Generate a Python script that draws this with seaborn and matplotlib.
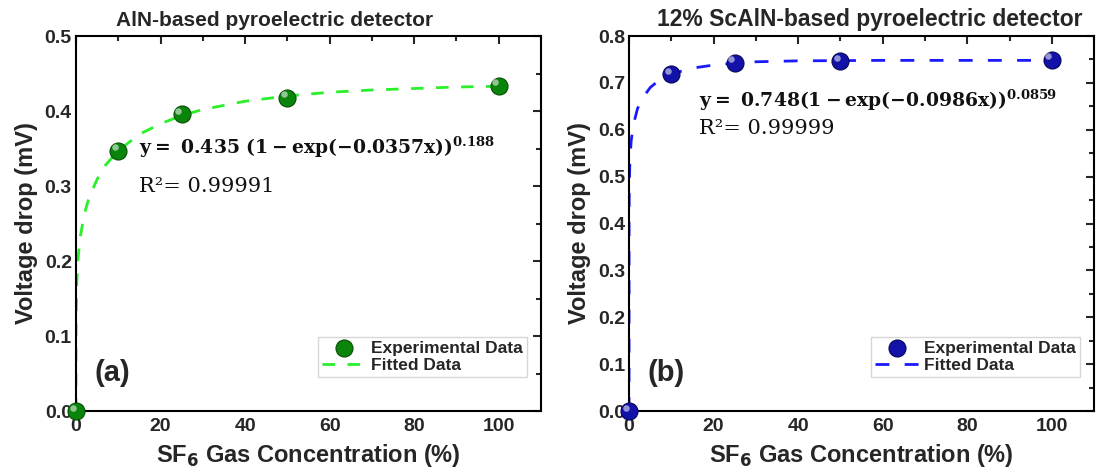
import numpy as np
import pandas as pd
import matplotlib
matplotlib.use("Agg")
import matplotlib.pyplot as plt
from matplotlib.ticker import MultipleLocator
from matplotlib.transforms import ScaledTranslation
import seaborn as sns

sns.set_style('white')
plt.rcParams['font.family'] = ['Liberation Sans', 'DejaVu Sans']
plt.rcParams['font.weight'] = 'bold'
plt.rcParams['mathtext.fontset'] = 'dejavuserif'

# experimental data
conc = [0, 10, 25, 50, 100]
v_aln = [0.0, 0.347, 0.396, 0.418, 0.434]
v_scaln = [0.0, 0.719, 0.743, 0.746, 0.749]

# fitted curves
fit_x = [0, 0.01, 0.05, 0.2, 0.5, 1, 2, 3, 5, 7, 10, 15, 20, 25, 30, 40, 50, 60, 70, 80, 90, 100]
fit_aln = [0.0, 0.098, 0.132, 0.172, 0.204, 0.232, 0.263, 0.283, 0.309, 0.328, 0.347, 0.369,
           0.383, 0.394, 0.402, 0.413, 0.420, 0.425, 0.428, 0.430, 0.432, 0.433]
fit_scaln = [0.0, 0.413, 0.474, 0.533, 0.576, 0.610, 0.645, 0.665, 0.690, 0.705, 0.719, 0.7315,
             0.738, 0.742, 0.745, 0.747, 0.7475, 0.748, 0.748, 0.748, 0.748, 0.748]

panels = [
    dict(title='AlN-based pyroelectric detector', exp=v_aln, fit=fit_aln, ylim=0.5,
         mcol='#0b840b', ecol='#055005', lcol='#2af02a', tag='(a)', tx=0.428, tsize=15,
         dash=[4.5, 4.5],
         eq=r'$\mathbf{y{=}\ 0.435\ (1-exp(-0.0357x))^{0.188}}$',
         r2='R\u00b2= 0.99991', eqpos=(15, 0.352), r2pos=(15, 0.300)),
    dict(title='12% ScAlN-based pyroelectric detector', exp=v_scaln, fit=fit_scaln, ylim=0.8,
         mcol='#1212a8', ecol='#05055a', lcol='#1a1aff', tag='(b)', tx=0.518, tsize=16.5,
         dash=[5, 5.5],
         eq=r'$\mathbf{y{=}\ 0.748(1-exp(-0.0986x))^{0.0859}}$',
         r2='R\u00b2= 0.99999', eqpos=(16.5, 0.662), r2pos=(16.5, 0.602)),
]

fig = plt.figure(figsize=(10.98, 4.75), dpi=100)
lefts = [0.0692, 0.5729]
width = 0.4235

for p, left in zip(panels, lefts):
    ax = fig.add_axes([left, 0.1347, width, 0.7895])
    df_fit = pd.DataFrame({'x': fit_x, 'y': p['fit']})
    df_exp = pd.DataFrame({'x': conc, 'y': p['exp']})
    sns.lineplot(data=df_fit, x='x', y='y', ax=ax, color=p['lcol'], lw=2,
                 dashes=False, label='Fitted Data', zorder=2)
    ax.lines[-1].set_dashes(p['dash'])
    sns.scatterplot(data=df_exp, x='x', y='y', ax=ax, s=150, color=p['mcol'],
                    edgecolor=p['ecol'], linewidth=0.8, label='Experimental Data',
                    zorder=3, clip_on=False)
    # small shine on the spheres
    sns.scatterplot(data=df_exp, x='x', y='y', ax=ax, s=22, color='white', alpha=0.55,
                    linewidth=0, legend=False, zorder=4, clip_on=False)
    shine = ax.collections[-1]
    shine.set_offset_transform(ax.transData + ScaledTranslation(-2.5 / 72, 2.5 / 72, fig.dpi_scale_trans))

    ax.set_xlim(0, 110)
    ax.set_ylim(0, p['ylim'])
    ax.xaxis.set_major_locator(MultipleLocator(20))
    ax.xaxis.set_minor_locator(MultipleLocator(10))
    ax.yaxis.set_major_locator(MultipleLocator(0.1))
    ax.yaxis.set_minor_locator(MultipleLocator(0.05))
    ax.tick_params(which='both', direction='in', top=True, right=True, width=1.5)
    ax.tick_params(which='major', length=6, labelsize=14)
    ax.tick_params(axis='x', which='major', pad=5)
    ax.tick_params(axis='y', which='major', pad=3)
    ax.tick_params(which='minor', length=3.5)
    ax.set_yticks(np.arange(0, p['ylim'] + 0.01, 0.1))
    ax.set_yticklabels([f'{v:.1f}' for v in ax.get_yticks()])
    for lab in ax.get_xticklabels() + ax.get_yticklabels():
        lab.set_fontweight('bold')
    for s in ax.spines.values():
        s.set_linewidth(1.5)
        s.set_color('black')

    ax.set_xlabel(r'SF$_{\mathbf{6}}$ Gas Concentration (%)', fontsize=17, fontweight='bold',
                  labelpad=5, math_fontfamily='dejavusans')
    ax.set_ylabel('Voltage drop (mV)', fontsize=17, fontweight='bold', labelpad=5)
    ax.set_title(p['title'], fontsize=p['tsize'], fontweight='bold', x=p['tx'], pad=7)

    ax.text(p['eqpos'][0], p['eqpos'][1], p['eq'], fontsize=13.5, color='#111111', va='center')
    ax.text(p['r2pos'][0], p['r2pos'][1], p['r2'], fontsize=15, color='#111111', va='center',
            fontweight='normal', family='DejaVu Serif')
    ax.text(0.04, 0.08, p['tag'], transform=ax.transAxes, fontsize=21, fontweight='bold')

    h, l = ax.get_legend_handles_labels()
    order = [l.index('Experimental Data'), l.index('Fitted Data')]
    leg = ax.legend([h[i] for i in order], [l[i] for i in order], loc='lower right',
                    bbox_to_anchor=(0.97, 0.09), fontsize=12.5, frameon=True, fancybox=False,
                    handlelength=2.5, handletextpad=0.3, borderpad=0.25, labelspacing=0.1,
                    borderaxespad=0)
    leg.get_frame().set_edgecolor('#cccccc')
    leg.get_frame().set_linewidth(1)
    for t in leg.get_texts():
        t.set_fontweight('bold')

fig.savefig('out.png', dpi=100)
